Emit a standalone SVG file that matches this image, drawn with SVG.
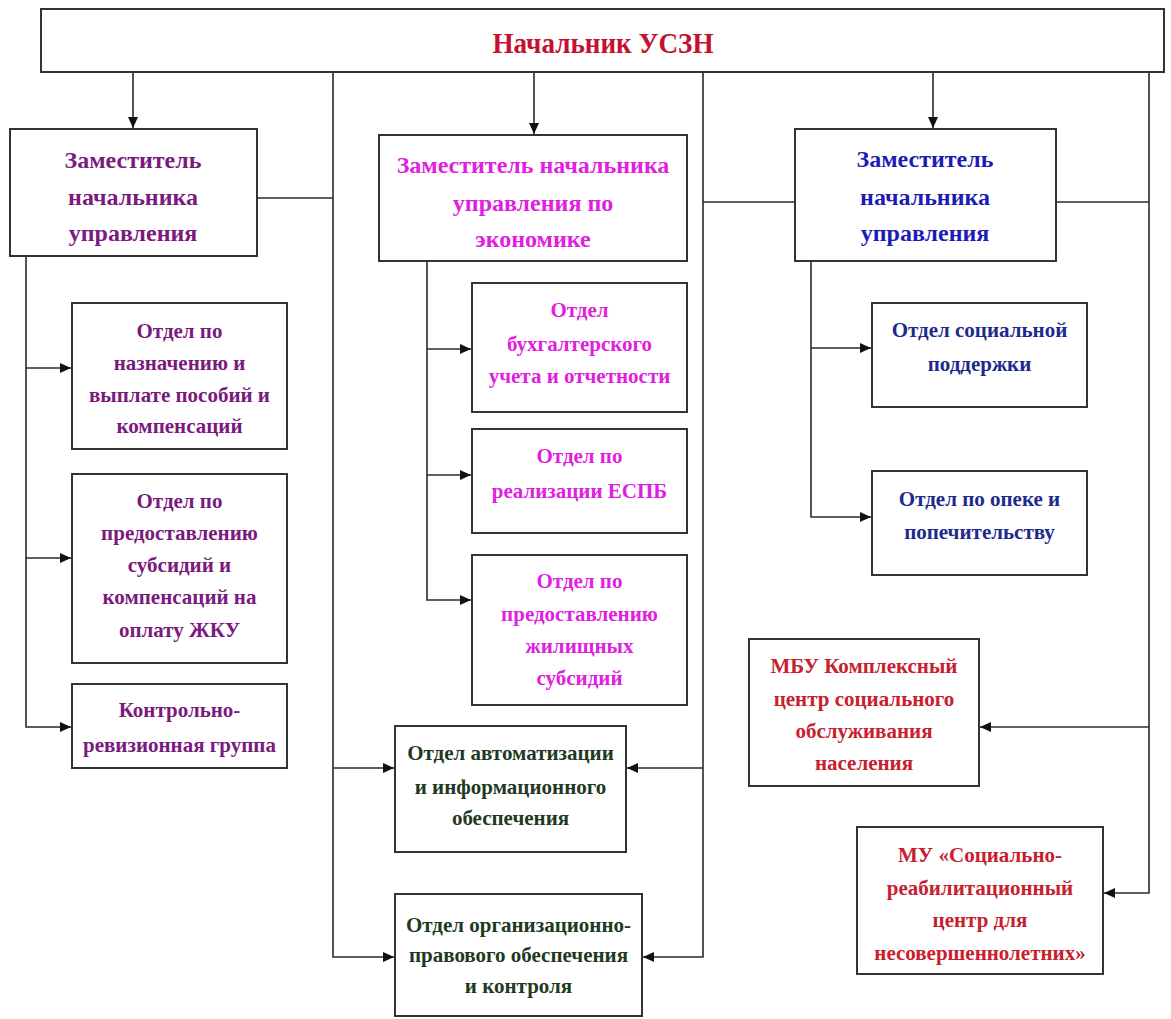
<svg xmlns="http://www.w3.org/2000/svg" width="1171" height="1019" viewBox="0 0 1171 1019">
<style>
.box{fill:#fff;stroke:#333;stroke-width:2}
.ln{fill:none;stroke:#2a2a2a;stroke-width:1.6}
text{font-family:"Liberation Serif","Times New Roman",serif;text-anchor:middle}
.t0{font-size:30px;font-weight:bold;fill:#c4122e}
.dp{font-size:24px;font-weight:bold}
.ch{font-size:21px;font-weight:bold}
.pur{fill:#7a1a7e}
.mag{fill:#e020e0}
.blu{fill:#1c1cb4}
.nav{fill:#1e2a8c}
.grn{fill:#1f3a22}
.red{fill:#c8202e}
</style>
<defs>
<marker id="ah" markerUnits="userSpaceOnUse" markerWidth="12" markerHeight="10" refX="11" refY="5" orient="auto">
<path d="M0,0 L11,5 L0,10 Z" fill="#111"/>
</marker>
</defs>
<rect width="1171" height="1019" fill="#fff"/>
<g id="connectors">
<path class="ln" d="M133 72 V128" marker-end="url(#ah)"/>
<path class="ln" d="M534 72 V134" marker-end="url(#ah)"/>
<path class="ln" d="M933 72 V128" marker-end="url(#ah)"/>
<path class="ln" d="M333 72 V957 H394" marker-end="url(#ah)"/>
<path class="ln" d="M257 198 H333"/>
<path class="ln" d="M333 768 H394" marker-end="url(#ah)"/>
<path class="ln" d="M703 72 V957 H643" marker-end="url(#ah)"/>
<path class="ln" d="M703 202 H795"/>
<path class="ln" d="M703 768 H627" marker-end="url(#ah)"/>
<path class="ln" d="M1149 72 V893 H1104" marker-end="url(#ah)"/>
<path class="ln" d="M1056 202 H1149"/>
<path class="ln" d="M1149 727 H980" marker-end="url(#ah)"/>
<path class="ln" d="M26 256 V727 H71" marker-end="url(#ah)"/>
<path class="ln" d="M26 368 H71" marker-end="url(#ah)"/>
<path class="ln" d="M26 558 H71" marker-end="url(#ah)"/>
<path class="ln" d="M427 261 V600 H471" marker-end="url(#ah)"/>
<path class="ln" d="M427 349 H471" marker-end="url(#ah)"/>
<path class="ln" d="M427 475 H471" marker-end="url(#ah)"/>
<path class="ln" d="M811 261 V517 H871" marker-end="url(#ah)"/>
<path class="ln" d="M811 348 H871" marker-end="url(#ah)"/>
</g>
<g id="head">
<rect class="box" x="41" y="9" width="1123" height="63"/>
<text class="t0" x="603" y="53" textLength="221" lengthAdjust="spacingAndGlyphs">Начальник УСЗН</text>
</g>
<g id="dep1">
<rect class="box" x="10" y="129" width="247" height="127"/>
<text class="dp pur" x="133" y="168">Заместитель</text>
<text class="dp pur" x="133" y="205">начальника</text>
<text class="dp pur" x="133" y="241">управления</text>
</g>
<g id="dep2">
<rect class="box" x="379" y="135" width="308" height="126"/>
<text class="dp mag" x="533" y="173">Заместитель начальника</text>
<text class="dp mag" x="533" y="211">управления по</text>
<text class="dp mag" x="533" y="247">экономике</text>
</g>
<g id="dep3">
<rect class="box" x="795" y="129" width="261" height="132"/>
<text class="dp blu" x="925" y="167">Заместитель</text>
<text class="dp blu" x="925" y="205">начальника</text>
<text class="dp blu" x="925" y="241">управления</text>
</g>
<g id="otd-posobiya">
<rect class="box" x="72" y="303" width="215" height="146"/>
<text class="ch pur" x="179.5" y="338">Отдел по</text>
<text class="ch pur" x="179.5" y="370">назначению и</text>
<text class="ch pur" x="179.5" y="402">выплате пособий и</text>
<text class="ch pur" x="179.5" y="433">компенсаций</text>
</g>
<g id="otd-subsidii">
<rect class="box" x="72" y="474" width="215" height="189"/>
<text class="ch pur" x="179.5" y="508">Отдел по</text>
<text class="ch pur" x="179.5" y="540">предоставлению</text>
<text class="ch pur" x="179.5" y="572">субсидий и</text>
<text class="ch pur" x="179.5" y="604">компенсаций на</text>
<text class="ch pur" x="179.5" y="637">оплату ЖКУ</text>
</g>
<g id="krg">
<rect class="box" x="72" y="684" width="215" height="84"/>
<text class="ch pur" x="179.5" y="717">Контрольно-</text>
<text class="ch pur" x="179.5" y="752">ревизионная группа</text>
</g>
<g id="otd-buh">
<rect class="box" x="472" y="283" width="215" height="129"/>
<text class="ch mag" x="579.5" y="317">Отдел</text>
<text class="ch mag" x="579.5" y="351">бухгалтерского</text>
<text class="ch mag" x="579.5" y="383">учета и отчетности</text>
</g>
<g id="otd-espb">
<rect class="box" x="472" y="429" width="215" height="104"/>
<text class="ch mag" x="579.5" y="463">Отдел по</text>
<text class="ch mag" x="579.5" y="498">реализации ЕСПБ</text>
</g>
<g id="otd-zhil">
<rect class="box" x="472" y="555" width="215" height="150"/>
<text class="ch mag" x="579.5" y="588">Отдел по</text>
<text class="ch mag" x="579.5" y="621">предоставлению</text>
<text class="ch mag" x="579.5" y="653">жилищных</text>
<text class="ch mag" x="579.5" y="685">субсидий</text>
</g>
<g id="otd-avto">
<rect class="box" x="395" y="726" width="231" height="126"/>
<text class="ch grn" x="510.5" y="760">Отдел автоматизации</text>
<text class="ch grn" x="510.5" y="794">и информационного</text>
<text class="ch grn" x="510.5" y="825">обеспечения</text>
</g>
<g id="otd-org">
<rect class="box" x="395" y="894" width="247" height="122"/>
<text class="ch grn" x="518.5" y="932">Отдел организационно-</text>
<text class="ch grn" x="518.5" y="962">правового обеспечения</text>
<text class="ch grn" x="518.5" y="993">и контроля</text>
</g>
<g id="otd-socpod">
<rect class="box" x="872" y="303" width="215" height="104"/>
<text class="ch nav" x="979.5" y="337">Отдел социальной</text>
<text class="ch nav" x="979.5" y="371">поддержки</text>
</g>
<g id="otd-opeka">
<rect class="box" x="872" y="471" width="215" height="104"/>
<text class="ch nav" x="979.5" y="506">Отдел по опеке и</text>
<text class="ch nav" x="979.5" y="539">попечительству</text>
</g>
<g id="mbu">
<rect class="box" x="749" y="639" width="230" height="147"/>
<text class="ch red" x="864" y="673">МБУ Комплексный</text>
<text class="ch red" x="864" y="706">центр социального</text>
<text class="ch red" x="864" y="738">обслуживания</text>
<text class="ch red" x="864" y="770">населения</text>
</g>
<g id="mu">
<rect class="box" x="857" y="827" width="246" height="147"/>
<text class="ch red" x="980" y="862">МУ «Социально-</text>
<text class="ch red" x="980" y="895">реабилитационный</text>
<text class="ch red" x="980" y="927">центр для</text>
<text class="ch red" x="980" y="960">несовершеннолетних»</text>
</g>
</svg>
